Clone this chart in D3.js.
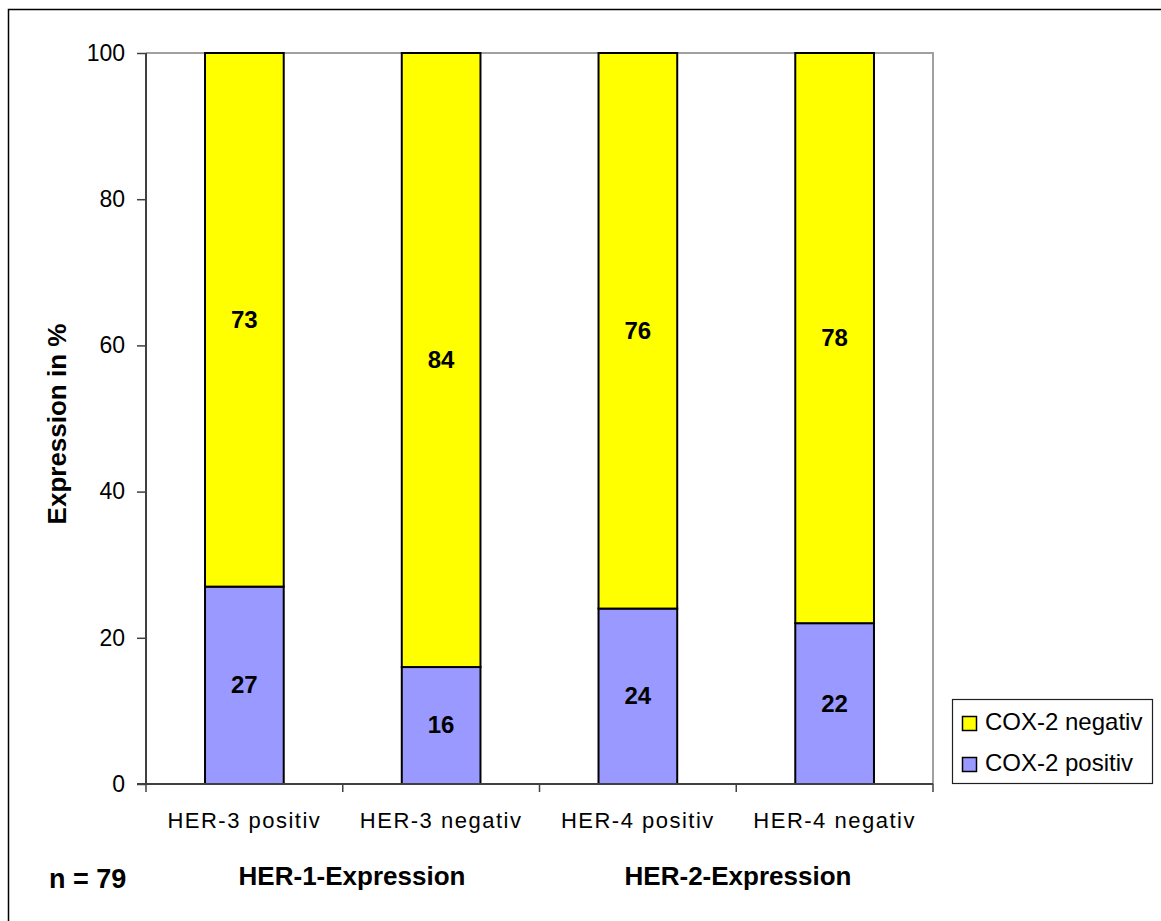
<!DOCTYPE html>
<html>
<head>
<meta charset="utf-8">
<script src="https://cdn.jsdelivr.net/npm/d3@7"></script>
<style>
  html, body { margin: 0; padding: 0; background: #fff; }
  svg { display: block; font-family: "Liberation Sans", Arial, sans-serif; }
</style>
</head>
<body>
<svg id="chart" width="1161" height="921"></svg>
<script>
// Categories and values (percent)
const categories = ["HER-3 positiv", "HER-3 negativ", "HER-4 positiv", "HER-4 negativ"];
const cox2Positiv = [27, 16, 24, 22];
const cox2Negativ = [73, 84, 76, 78];
const seriesNames = ["COX-2 negativ", "COX-2 positiv"];
const yTicks = [0, 20, 40, 60, 80, 100];
const groupLabels = ["HER-1-Expression", "HER-2-Expression"];
const sampleNote = "n = 79";
const yTitle = "Expression in %";

const colors = { positiv: "#9999FF", negativ: "#FFFF00" };

const svg = d3.select("#chart");

// Outer chart border (top and left edges show inside the window)
svg.append("rect")
  .attr("x", 8.5).attr("y", 9.5)
  .attr("width", 1180).attr("height", 940)
  .attr("fill", "none").attr("stroke", "#000").attr("stroke-width", 1.5);

const plot = { left: 146, right: 933, top: 53, bottom: 784 };

const x = d3.scaleBand()
  .domain(categories)
  .range([plot.left, plot.right])
  .paddingInner(0.6)
  .paddingOuter(0.3);

const y = d3.scaleLinear()
  .domain([0, 100])
  .range([plot.bottom, plot.top]);

// Plot frame: top and right edges in light gray
svg.append("path")
  .attr("d", `M${plot.left},${plot.top}H${plot.right}V${plot.bottom}`)
  .attr("fill", "none").attr("stroke", "#a0a0a0").attr("stroke-width", 2);

// Stacked data
const rows = categories.map((c, i) => ({ cat: c, positiv: cox2Positiv[i], negativ: cox2Negativ[i] }));
const stack = d3.stack().keys(["positiv", "negativ"])(rows);

const layers = svg.append("g").selectAll("g")
  .data(stack).join("g")
  .attr("fill", d => colors[d.key]);

layers.selectAll("rect")
  .data(d => d.map(s => ({ s, key: d.key })))
  .join("rect")
  .attr("x", d => x(d.s.data.cat))
  .attr("width", x.bandwidth())
  .attr("y", d => y(d.s[1]))
  .attr("height", d => y(d.s[0]) - y(d.s[1]))
  .attr("stroke", "#000")
  .attr("stroke-width", 2);

// Value labels centred in each segment
layers.selectAll("text")
  .data(d => d.map(s => ({ s, key: d.key })))
  .join("text")
  .attr("x", d => x(d.s.data.cat) + x.bandwidth() / 2)
  .attr("y", d => y((d.s[0] + d.s[1]) / 2))
  .attr("dy", "0.33em")
  .attr("text-anchor", "middle")
  .attr("font-weight", "bold")
  .attr("font-size", 24)
  .attr("fill", "#000")
  .text(d => d.s[1] - d.s[0]);

// Y axis
const yAxis = svg.append("g")
  .attr("transform", `translate(${plot.left},0)`)
  .call(d3.axisLeft(y).tickValues(yTicks).tickSize(9).tickPadding(12));
yAxis.select(".domain").attr("stroke", "#404040").attr("stroke-width", 2)
  .attr("d", `M0,${plot.top}V${plot.bottom}`);
yAxis.selectAll(".tick line").attr("stroke", "#404040").attr("stroke-width", 1.5);
yAxis.selectAll(".tick text")
  .attr("font-size", 23).attr("fill", "#000")
  .attr("font-family", "Liberation Sans, Arial, sans-serif");

// X axis with ticks on the category boundaries
const boundaries = d3.range(categories.length + 1).map(i => plot.left + i * x.step());
const xAxisG = svg.append("g");
xAxisG.append("line")
  .attr("x1", plot.left - 9).attr("x2", plot.right)
  .attr("y1", plot.bottom).attr("y2", plot.bottom)
  .attr("stroke", "#404040").attr("stroke-width", 2);
xAxisG.selectAll("line.tick")
  .data(boundaries).join("line").attr("class", "tick")
  .attr("x1", d => d).attr("x2", d => d)
  .attr("y1", plot.bottom).attr("y2", plot.bottom + 8)
  .attr("stroke", "#404040").attr("stroke-width", 1.5);
xAxisG.selectAll("text")
  .data(categories).join("text")
  .attr("x", d => x(d) + x.bandwidth() / 2)
  .attr("y", 827.5)
  .attr("text-anchor", "middle")
  .attr("font-size", 22)
  .attr("letter-spacing", 1.5)
  .attr("fill", "#000")
  .text(d => d);

// Y axis title
svg.append("text")
  .attr("transform", "translate(66,424) rotate(-90)")
  .attr("text-anchor", "middle")
  .attr("font-weight", "bold")
  .attr("font-size", 26)
  .text(yTitle);

// Group labels under the category pairs
const groupX = [352, 738];
svg.selectAll("text.group")
  .data(groupLabels).join("text").attr("class", "group")
  .attr("x", (d, i) => groupX[i])
  .attr("y", 885)
  .attr("text-anchor", "middle")
  .attr("font-weight", "bold")
  .attr("font-size", 26)
  .text(d => d);

svg.append("text")
  .attr("x", 49).attr("y", 888)
  .attr("font-weight", "bold")
  .attr("font-size", 27)
  .text(sampleNote);

// Legend
const legend = svg.append("g");
legend.append("rect")
  .attr("x", 952.5).attr("y", 699.5)
  .attr("width", 200).attr("height", 84)
  .attr("fill", "#fff").attr("stroke", "#202020").attr("stroke-width", 1.2);
const legendKeys = ["negativ", "positiv"];
const items = legend.selectAll("g.item")
  .data(seriesNames).join("g").attr("class", "item")
  .attr("transform", (d, i) => `translate(0,${i * 41})`);
items.append("rect")
  .attr("x", 962.5).attr("y", 716.5)
  .attr("width", 14).attr("height", 14)
  .attr("fill", (d, i) => colors[legendKeys[i]])
  .attr("stroke", "#000").attr("stroke-width", 1.5);
items.append("text")
  .attr("x", 985).attr("y", 729.5)
  .attr("font-size", 24)
  .text(d => d);
</script>
</body>
</html>
